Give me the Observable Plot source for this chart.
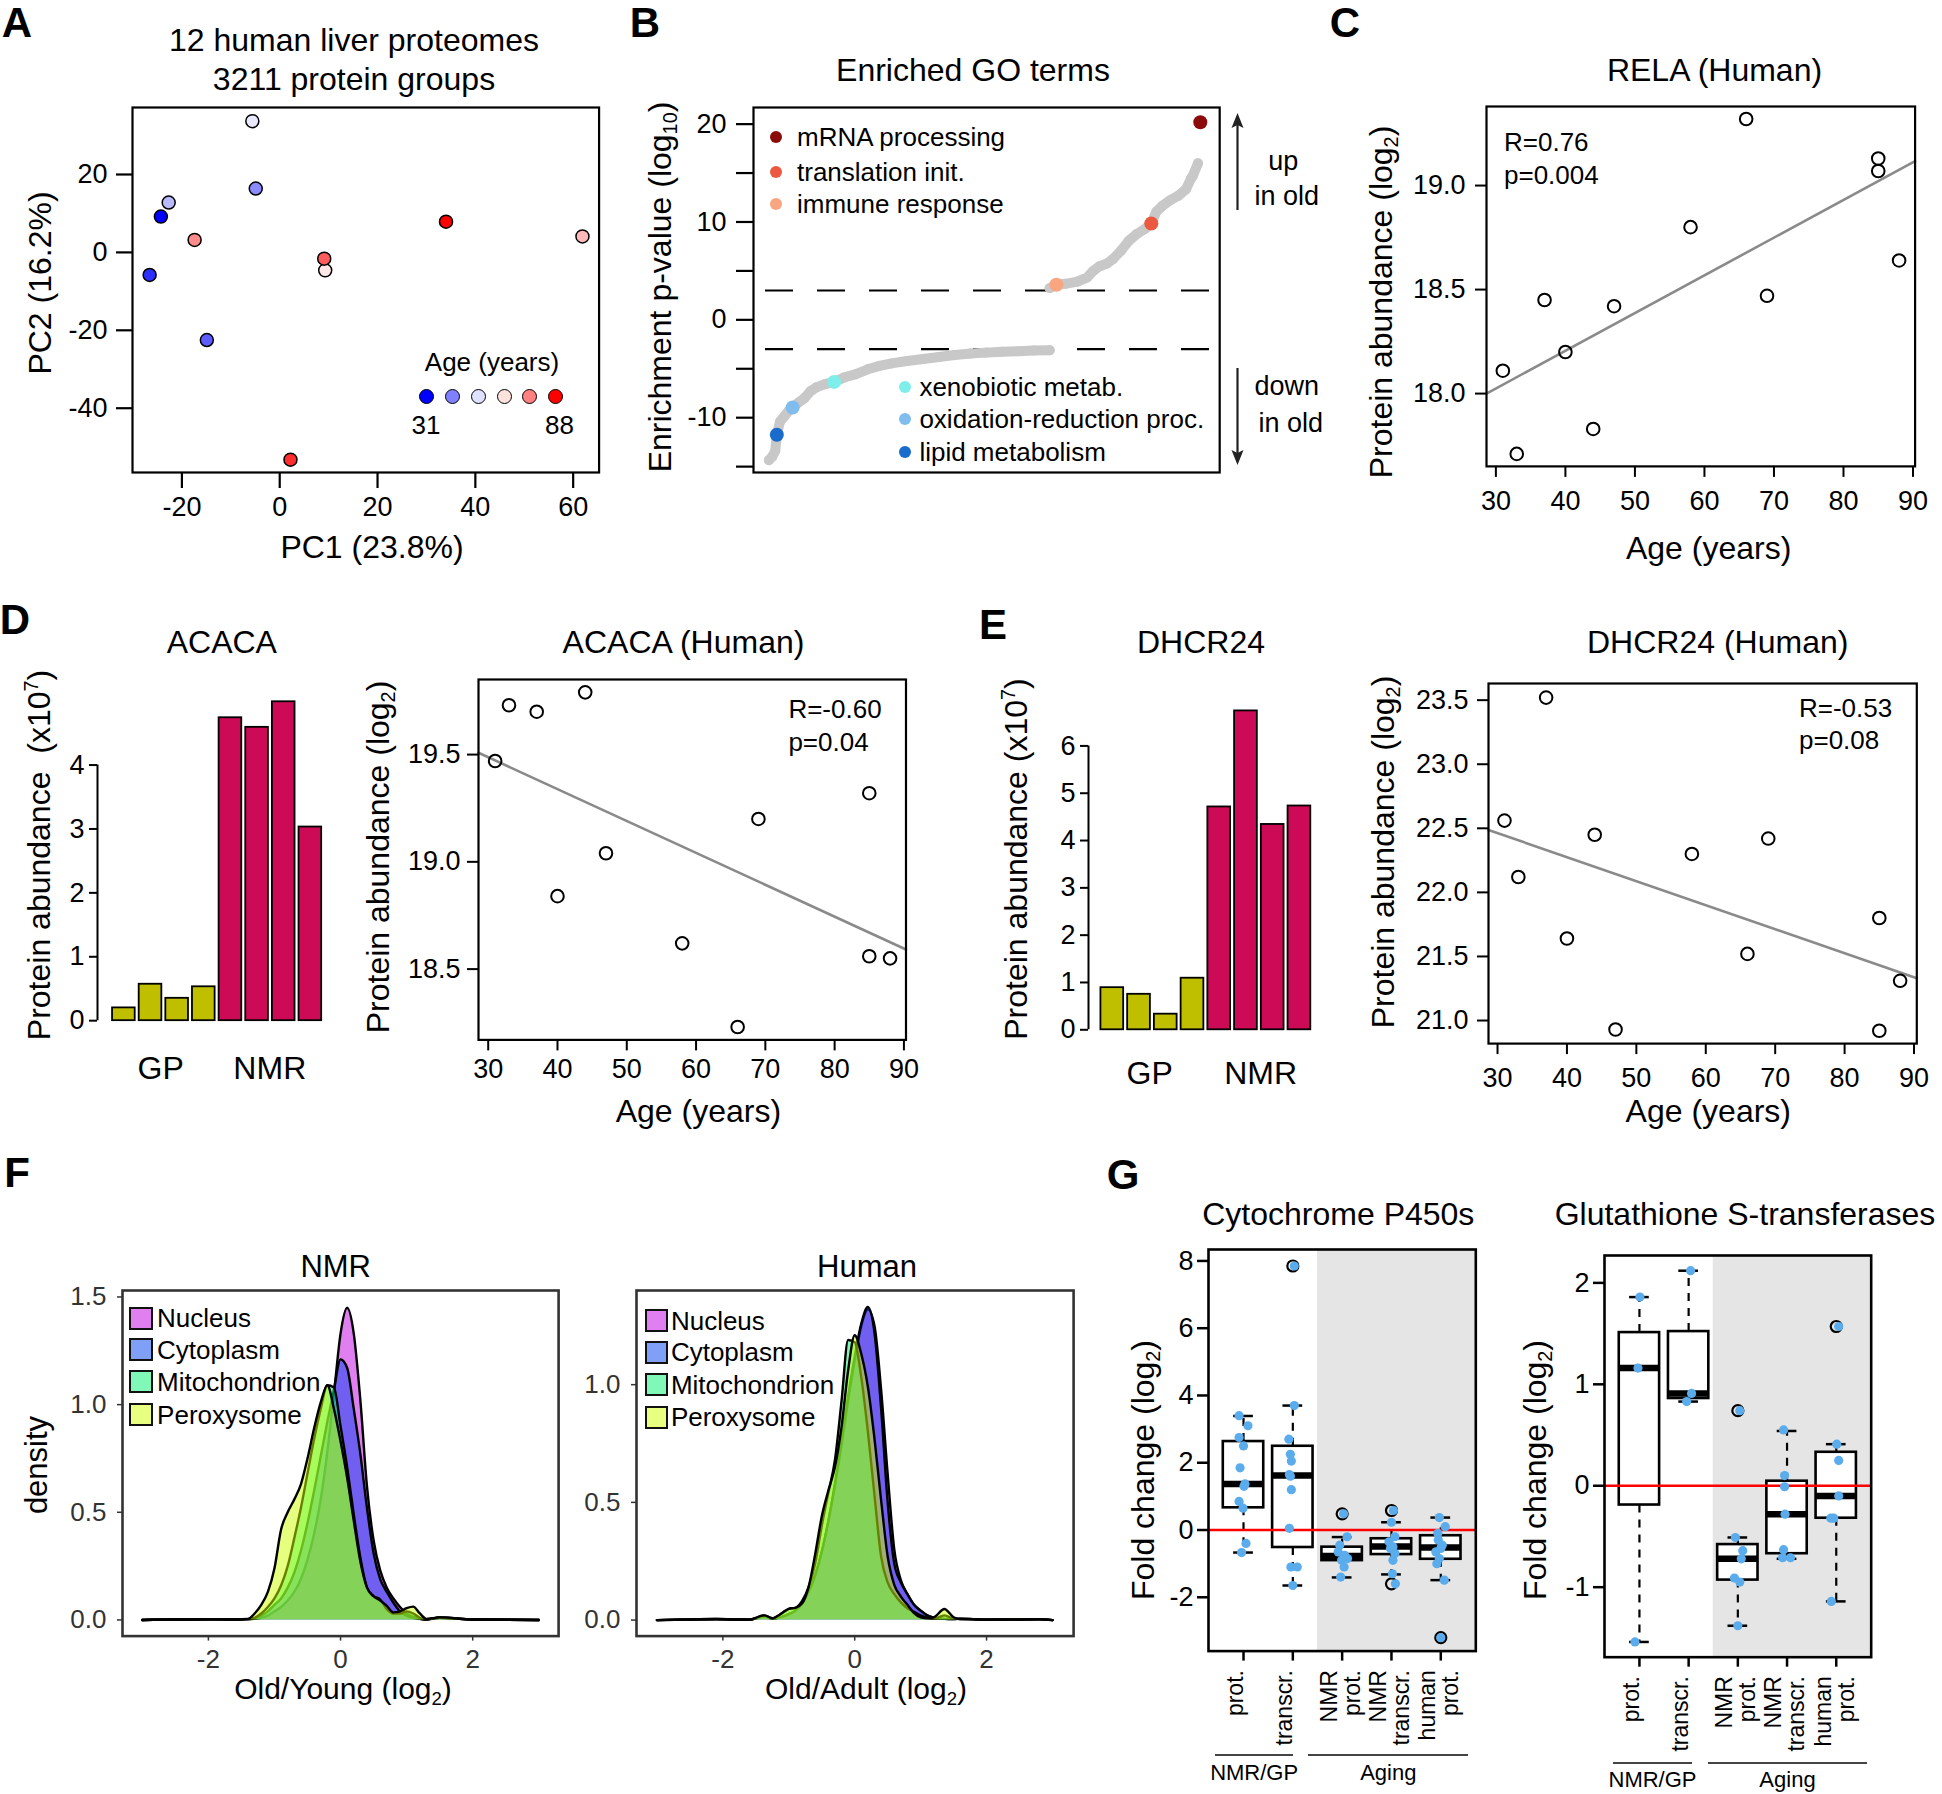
<!DOCTYPE html>
<html><head><meta charset="utf-8">
<script src="https://cdn.jsdelivr.net/npm/d3@7"></script>
<script src="https://cdn.jsdelivr.net/npm/@observablehq/plot@0.6"></script>
<style>
body{margin:0;background:#fff;}
#root{position:relative;width:1942px;height:1794px;overflow:hidden;font-family:"Liberation Sans",Arial,Helvetica,sans-serif;color:#000;background:#fff;}
.t{position:absolute;white-space:nowrap;line-height:1;}
.t sub{font-size:0.62em;vertical-align:-0.3em;line-height:0;}
.t sup{font-size:0.62em;vertical-align:0.6em;line-height:0;}
</style></head><body><div id="root"></div>
<script>
// ---------------- DATA ----------------
// Panel A: PCA of 12 human liver proteomes (sorted by age)
const ages = [31, 33, 37, 40, 44, 47, 58, 66, 69, 85, 85, 88];
const pc1 = [-24.3, -26.6, -14.9, -4.9, -22.7, -5.6, 9.3, 61.9, -17.4, 9.1, 2.2, 34.0];
const pc2 = [9.2, -5.8, -22.5, 16.4, 12.8, 33.7, -4.6, 4.1, 3.2, -1.6, -53.2, 7.9];
const ageLegendColors = ["#0000ff", "#8080ff", "#e0e0ff", "#ffe2dc", "#ff8080", "#ff0000"];
const ageLegendLabels = ["31", "88"];

// Panel B: enriched GO terms (rank position, -log10 p signed)
const goDownRank = [3.9, 4.7, 5.5, 5.9, 6.7, 7.9, 8.9, 9.9, 11.4, 12.9, 14.4, 15.9, 17.9, 20.4, 22.9, 25.9, 28.9, 31.9, 34.9, 38.9, 42.9, 46.9, 50.9, 54.9, 58.9, 62.9, 66.9, 70.9, 74.9];
const goDownVal = [-14.34, -14.0, -13.4, -11.75, -10.4, -9.8, -9.3, -8.96, -8.45, -8.0, -7.3, -6.9, -6.6, -6.34, -5.9, -5.55, -5.05, -4.7, -4.45, -4.2, -4.0, -3.8, -3.6, -3.45, -3.35, -3.27, -3.2, -3.13, -3.1];
const goUpRank = [74.9, 76.6, 78.9, 81.9, 84.4, 85.9, 87.4, 89.4, 90.9, 92.9, 94.9, 96.9, 98.9, 100.6, 101.9, 103.4, 105.4, 107.4, 109.4, 110.7, 111.1, 112.4];
const goUpVal = [3.24, 3.58, 3.68, 3.9, 4.33, 5.0, 5.45, 5.76, 6.2, 7.05, 8.07, 8.76, 9.27, 9.85, 11.07, 11.65, 12.23, 12.67, 13.36, 14.48, 14.7, 16.0];
const goTerms = ["mRNA processing", "translation init.", "immune response", "xenobiotic metab.", "oxidation-reduction proc.", "lipid metabolism"];
const goTermRank = [113.0, 100.6, 76.6, 20.4, 9.9, 5.9];
const goTermVal = [20.2, 9.85, 3.58, -6.34, -8.96, -11.75];
const goTermColors = ["#8b0a0a", "#eb5a40", "#f8a580", "#7eeeea", "#80bdee", "#1a6ccc"];
const goCutoffs = [3, -3];

// Panel C/D/E: protein abundance vs age (same 12 individuals)
const relaVals = [18.11, 17.71, 18.45, 18.20, 17.83, 18.42, 18.80, 19.32, 18.47, 19.13, 19.07, 18.64];
const acacaVals = [19.47, 19.73, 19.70, 18.84, 19.79, 19.04, 18.62, 18.23, 19.20, 19.32, 18.56, 18.55];
const dhcrVals = [22.56, 22.12, 23.52, 21.64, 22.45, 20.93, 22.30, 21.52, 22.42, 21.80, 20.92, 21.31];
const relaStats = ["R=0.76", "p=0.004"];
const acacaStats = ["R=-0.60", "p=0.04"];
const dhcrStats = ["R=-0.53", "p=0.08"];

// Panel D/E bars (x10^7), 4 GP then 4 NMR
const barSpecies = ["GP", "GP", "GP", "GP", "NMR", "NMR", "NMR", "NMR"];
const acacaBars = [0.20, 0.57, 0.35, 0.53, 4.74, 4.59, 4.99, 3.03];
const dhcrBars = [0.89, 0.75, 0.33, 1.09, 4.71, 6.74, 4.34, 4.73];
const speciesColors = {GP: "#bfbf00", NMR: "#cc0a55"};

// Panel F: density of Old/Young (NMR) and Old/Adult (Human) log2 ratios
const compartments = ["Nucleus", "Cytoplasm", "Mitochondrion", "Peroxysome"];
const compColors = ["#c100e1", "#0040f0", "#00f070", "#d0ff00"];
const nmrX = [-3.0, -2.0, -1.6, -1.4, -1.3, -1.2, -1.1, -1.0, -0.9, -0.8, -0.7, -0.6, -0.5, -0.4, -0.3, -0.2, -0.1, 0.0, 0.1, 0.2, 0.3, 0.4, 0.5, 0.6, 0.7, 0.8, 0.9, 1.0, 1.1, 1.2, 1.3, 1.5, 2.0, 3.0];
const nmrNuc = [0, 0.003, 0.002, 0.004, 0.006, 0.01, 0.02, 0.04, 0.06, 0.09, 0.13, 0.19, 0.28, 0.40, 0.56, 0.78, 1.05, 1.33, 1.45, 1.33, 1.02, 0.62, 0.37, 0.23, 0.15, 0.10, 0.06, 0.03, 0.015, 0.005, 0.002, 0.012, 0.002, 0];
const nmrCyt = [0, 0.003, 0.002, 0.004, 0.005, 0.02, 0.04, 0.07, 0.10, 0.15, 0.22, 0.32, 0.45, 0.60, 0.76, 0.92, 1.07, 1.21, 1.17, 0.98, 0.77, 0.52, 0.31, 0.19, 0.13, 0.08, 0.04, 0.02, 0.01, 0.005, 0.002, 0.01, 0.002, 0];
const nmrMit = [0, 0.003, 0.002, 0.004, 0.01, 0.03, 0.06, 0.10, 0.16, 0.25, 0.38, 0.52, 0.68, 0.84, 0.98, 1.09, 1.08, 0.90, 0.71, 0.49, 0.29, 0.15, 0.11, 0.095, 0.05, 0.03, 0.03, 0.04, 0.03, 0.01, 0.003, 0.01, 0.002, 0];
const nmrPer = [0, 0.003, 0.003, 0.005, 0.03, 0.07, 0.13, 0.24, 0.42, 0.50, 0.56, 0.63, 0.75, 0.89, 1.01, 1.09, 0.98, 0.83, 0.66, 0.46, 0.27, 0.15, 0.11, 0.09, 0.065, 0.035, 0.04, 0.055, 0.062, 0.03, 0.005, 0.012, 0.002, 0];
const humX = [-3.0, -2.1, -1.6, -1.37, -1.25, -1.1, -1.0, -0.9, -0.8, -0.7, -0.6, -0.5, -0.4, -0.3, -0.2, -0.1, 0.0, 0.1, 0.2, 0.3, 0.4, 0.5, 0.6, 0.7, 0.8, 0.9, 1.0, 1.1, 1.2, 1.36, 1.5, 1.6, 2.0, 2.8, 3.0];
const humNuc = [0, 0.003, 0.002, 0.015, 0.006, 0.015, 0.025, 0.04, 0.07, 0.12, 0.19, 0.29, 0.42, 0.57, 0.74, 0.93, 1.10, 1.25, 1.32, 1.25, 0.98, 0.62, 0.30, 0.17, 0.11, 0.065, 0.04, 0.02, 0.01, 0.005, 0.004, 0.006, 0.002, 0.003, 0];
const humCyt = [0, 0.003, 0.002, 0.015, 0.006, 0.015, 0.025, 0.04, 0.07, 0.12, 0.19, 0.29, 0.42, 0.58, 0.76, 0.95, 1.12, 1.26, 1.33, 1.22, 0.90, 0.50, 0.24, 0.16, 0.11, 0.065, 0.04, 0.02, 0.01, 0.005, 0.004, 0.006, 0.002, 0.003, 0];
const humMit = [0, 0.005, 0.002, 0.02, 0.008, 0.03, 0.048, 0.052, 0.08, 0.14, 0.24, 0.40, 0.54, 0.68, 0.93, 1.19, 1.18, 1.03, 0.80, 0.53, 0.27, 0.16, 0.11, 0.075, 0.05, 0.035, 0.02, 0.01, 0.005, 0.02, 0.006, 0.004, 0.002, 0.004, 0];
const humPer = [0, 0.005, 0.002, 0.02, 0.008, 0.03, 0.048, 0.052, 0.07, 0.14, 0.28, 0.44, 0.55, 0.65, 0.82, 1.06, 1.21, 1.13, 0.99, 0.77, 0.51, 0.27, 0.15, 0.10, 0.065, 0.03, 0.012, 0.008, 0.012, 0.047, 0.012, 0.004, 0.002, 0.004, 0];

// Panel G: fold changes (log2), boxplot statistics + individual values
const gCats = ["prot.", "transcr.", "NMR\nprot.", "NMR\ntranscr.", "human\nprot."];
const gGroups = [{label: "NMR/GP", from: 1, to: 2}, {label: "Aging", from: 3, to: 5}];
const cypLo = [-0.67, -1.65, -1.41, -1.32, -1.49];
const cypQ1 = [0.66, -0.52, -0.91, -0.73, -0.87];
const cypMed = [1.37, 1.62, -0.77, -0.49, -0.52];
const cypQ3 = [2.63, 2.49, -0.51, -0.26, -0.17];
const cypHi = [3.39, 3.70, -0.21, 0.23, 0.37];
const cypOut = [[], [7.85], [0.48], [0.58, -1.60], [-3.20]];
const cypVals = [[3.4, 3.1, 2.75, 2.5, 1.85, 1.37, 1.3, 0.85, 0.65, -0.4, -0.67], [7.85, 3.7, 2.7, 2.25, 2.05, 1.65, 1.6, 1.2, 0.05, -1.1, -1.1, -1.65], [0.48, -0.2, -0.45, -0.65, -0.75, -0.85, -0.9, -1.1, -1.4], [0.58, 0.23, -0.2, -0.35, -0.5, -0.55, -0.7, -0.9, -1.3, -1.6], [0.37, 0.1, -0.1, -0.3, -0.45, -0.55, -0.65, -0.85, -1.0, -1.49, -3.2]];
const cypJit = [[-0.09, 0.09, -0.09, 0, -0.07, 0.03, 0.01, -0.09, -0.01, 0.05, -0.04], [0.03, 0.03, -0.08, -0.05, -0.03, -0.07, -0.05, -0.03, -0.07, -0.04, 0.09, 0], [0.03, 0.1, -0.05, -0.08, 0.05, 0.11, -0.01, 0.04, -0.03], [0.04, 0, 0.07, -0.05, 0.03, -0.02, 0.07, 0.03, 0.02, 0.08], [-0.03, 0.09, -0.06, -0.05, 0.03, 0, -0.1, -0.03, -0.08, 0.07, 0]];
const gstLo = [-1.54, 0.83, -1.38, -0.72, -1.14];
const gstQ1 = [-0.19, 0.86, -0.93, -0.67, -0.32];
const gstMed = [1.16, 0.91, -0.72, -0.28, -0.10];
const gstQ3 = [1.51, 1.52, -0.58, 0.045, 0.33];
const gstHi = [1.86, 2.12, -0.51, 0.54, 0.41];
const gstOut = [[], [], [0.74], [], [1.57]];
const gstVals = [[1.86, 1.16, -1.54], [2.12, 0.91, 0.83], [0.74, -0.51, -0.64, -0.72, -0.91, -0.95, -1.38], [0.55, 0.1, -0.01, -0.28, -0.63, -0.71, -0.71], [1.57, 0.41, 0.25, -0.1, -0.32, -0.32, -1.14]];
const gstJit = [[0.01, -0.03, -0.09], [0.04, 0.06, -0.04], [0.04, -0.05, 0.1, 0.07, -0.07, 0.04, 0], [-0.07, -0.05, -0.05, -0.04, -0.07, -0.09, 0.07], [0.05, 0.01, 0.05, 0.05, -0.11, -0.05, -0.1]];

// ---------------- HELPERS ----------------
const FONT = '"Liberation Sans", Arial, Helvetica, sans-serif';
const root = document.getElementById("root");
const fmt = d => String(d);
const fmt1 = d => d.toFixed(1);

function txt(html, x, y, o = {}) {
  const d = document.createElement("div");
  d.className = "t";
  d.innerHTML = html;
  d.style.fontSize = (o.size || 32) + "px";
  if (o.bold) d.style.fontWeight = "bold";
  if (o.color) d.style.color = o.color;
  d.style.left = x + "px";
  d.style.top = y + "px";
  const ax = o.anchor === "start" ? "0%" : o.anchor === "end" ? "-100%" : "-50%";
  d.style.transform = `translate(${ax},-50%)` + (o.rotate ? ` rotate(${o.rotate}deg)` : "");
  root.appendChild(d);
  return d;
}
function box(x, y, w, h, style) {
  const d = document.createElement("div");
  d.style.position = "absolute";
  d.style.left = x + "px"; d.style.top = y + "px";
  d.style.width = w + "px"; d.style.height = h + "px";
  Object.assign(d.style, style);
  root.appendChild(d);
  return d;
}
function panel(L, T, R, B, opts, m = {l: 100, t: 30, r: 30, b: 90}) {
  const p = Plot.plot({
    width: R - L + m.l + m.r,
    height: B - T + m.t + m.b,
    marginLeft: m.l, marginTop: m.t, marginRight: m.r, marginBottom: m.b,
    style: {fontFamily: FONT, fontSize: "27px", overflow: "visible", background: "transparent", color: "black"},
    ...opts
  });
  p.style.position = "absolute";
  p.style.left = (L - m.l) + "px";
  p.style.top = (T - m.t) + "px";
  root.appendChild(p);
  return p;
}
function fit(xs, ys) {
  const mx = d3.mean(xs), my = d3.mean(ys);
  const b = d3.sum(xs, (x, i) => (x - mx) * (ys[i] - my)) / d3.sum(xs, x => (x - mx) ** 2);
  return {a: my - b * mx, b};
}

// ---------------- PANEL A ----------------
{
  const order = d3.range(ages.length).sort((i, j) => ages[i] - ages[j] || i - j);
  const rank = new Array(ages.length);
  order.forEach((k, r) => rank[k] = r);
  const ageColor = t => t <= 0.5 ? d3.interpolateRgb("#0000ff", "#ffffff")(t * 2) : d3.interpolateRgb("#ffffff", "#ff0000")((t - 0.5) * 2);
  const data = ages.map((a, i) => ({age: a, x: pc1[i], y: pc2[i], color: ageColor(rank[i] / (ages.length - 1))}));
  panel(131.7, 106.5, 598.3, 471.5, {
    x: {domain: [-30.1, 65.3]},
    y: {domain: [-56.5, 37.2]},
    color: {type: "identity"},
    marks: [
      Plot.frame({stroke: "black", strokeWidth: 2.2}),
      Plot.axisX({ticks: [-20, 0, 20, 40, 60], tickSize: 16, tickPadding: 8, strokeWidth: 2.2, label: null, tickFormat: fmt, fontSize: 27}),
      Plot.axisY({ticks: [-40, -20, 0, 20], tickSize: 16, tickPadding: 9, strokeWidth: 2.2, label: null, tickFormat: fmt, fontSize: 27}),
      Plot.dot(data, {x: "x", y: "y", r: 6.5, fill: "color", stroke: "black", strokeWidth: 1.5})
    ]
  });
  txt("A", 17, 23, {size: 42, bold: true});
  txt("12 human liver proteomes", 354, 40, {size: 32});
  txt("3211 protein groups", 354, 79, {size: 32});
  txt("PC1 (23.8%)", 372, 547, {size: 32});
  txt("PC2 (16.2%)", 40, 283, {size: 32, rotate: -90});
  txt("Age (years)", 492, 362, {size: 26});
  const lx = [426, 452, 478.4, 504.6, 529.5, 555.6];
  ageLegendColors.forEach((c, i) => box(lx[i] - 7.5, 396.6 - 7.5, 15, 15, {background: c, border: "1.5px solid #000", borderRadius: "50%", boxSizing: "border-box"}));
  txt(ageLegendLabels[0], 426, 425, {size: 26});
  txt(ageLegendLabels[1], 559.5, 425, {size: 26});
}

// ---------------- PANEL B ----------------
{
  const down = goDownRank.map((r, i) => ({r, v: goDownVal[i]}));
  const up = goUpRank.map((r, i) => ({r, v: goUpVal[i]}));
  const terms = goTerms.map((t, i) => ({t, r: goTermRank[i], v: goTermVal[i], c: goTermColors[i]}));
  const labeled = [20, 10, 0, -10];
  panel(753, 106.7, 1219.2, 471.7, {
    x: {domain: [0, 117.9], axis: null},
    y: {domain: [-15.6, 21.7]},
    color: {type: "identity"},
    marks: [
      Plot.ruleY(goCutoffs, {stroke: "black", strokeWidth: 2.2, strokeDasharray: "28,24", strokeDashoffset: -12}),
      Plot.line(down, {x: "r", y: "v", stroke: "#c8c8c8", strokeWidth: 10, strokeLinecap: "round", strokeLinejoin: "round"}),
      Plot.line(up, {x: "r", y: "v", stroke: "#c8c8c8", strokeWidth: 10, strokeLinecap: "round", strokeLinejoin: "round"}),
      Plot.dot(down, {x: "r", y: "v", r: 5, fill: "#c8c8c8"}),
      Plot.dot(up, {x: "r", y: "v", r: 5, fill: "#c8c8c8"}),
      Plot.dot(terms, {x: "r", y: "v", r: 7, fill: "c"}),
      Plot.frame({stroke: "black", strokeWidth: 2.2}),
      Plot.axisY({ticks: [-15, -10, -5, 0, 5, 10, 15, 20], tickSize: 17, tickPadding: 10, strokeWidth: 2.2, label: null, tickFormat: d => labeled.includes(d) ? String(d) : "", fontSize: 27})
    ]
  });
  txt("B", 645, 23, {size: 42, bold: true});
  txt("Enriched GO terms", 973, 70, {size: 32});
  txt("Enrichment p-value (log<sub>10</sub>)", 660, 287, {size: 32, rotate: -90});
  const upY = [137.3, 172.3, 203.7], downY = [387.3, 418.7, 451.7];
  [0, 1, 2].forEach(i => {
    box(776.3 - 6, upY[i] - 6, 12, 12, {background: goTermColors[i], borderRadius: "50%"});
    txt(goTerms[i], 797, upY[i], {size: 26, anchor: "start"});
    box(904.8 - 6, downY[i] - 6, 12, 12, {background: goTermColors[i + 3], borderRadius: "50%"});
    txt(goTerms[i + 3], 919.4, downY[i], {size: 26, anchor: "start"});
  });
  const svgNS = "http://www.w3.org/2000/svg";
  const s = document.createElementNS(svgNS, "svg");
  s.setAttribute("width", 40); s.setAttribute("height", 380);
  s.style.position = "absolute"; s.style.left = "1217px"; s.style.top = "100px";
  s.innerHTML = `<line x1="20.5" y1="22" x2="20.5" y2="110" stroke="#222" stroke-width="2.2"/>
    <path d="M20.5,13 L14.5,28 L20.5,25 L26.5,28 Z" fill="#222"/>
    <line x1="20.5" y1="268" x2="20.5" y2="356" stroke="#222" stroke-width="2.2"/>
    <path d="M20.5,365 L14.5,350 L20.5,353 L26.5,350 Z" fill="#222"/>`;
  root.appendChild(s);
  txt("up", 1283.3, 161, {size: 27});
  txt("in old", 1286.7, 196, {size: 27});
  txt("down", 1286.7, 386, {size: 27});
  txt("in old", 1290.7, 423, {size: 27});
}

// ---------------- scatter helper (C, D, E) ----------------
function scatter(L, T, R, B, xDom, yDom, vals, yTicks, o) {
  const data = ages.map((a, i) => ({a, v: vals[i]}));
  const {a, b} = fit(ages, vals);
  const reg = xDom.map(x => ({x, y: a + b * x}));
  panel(L, T, R, B, {
    x: {domain: xDom},
    y: {domain: yDom},
    marks: [
      Plot.line(reg, {x: "x", y: "y", stroke: "#8a8a8a", strokeWidth: 2.6}),
      Plot.dot(data, {x: "a", y: "v", r: 6.3, stroke: "black", strokeWidth: 2, fill: "none"}),
      Plot.frame({stroke: "black", strokeWidth: 2.2}),
      Plot.axisX({ticks: [30, 40, 50, 60, 70, 80, 90], tickSize: 11, tickPadding: o.xpad, strokeWidth: 2, label: null, tickFormat: fmt, fontSize: 27}),
      Plot.axisY({ticks: yTicks, tickSize: 11, tickPadding: o.ypad, strokeWidth: 2, label: null, tickFormat: fmt1, fontSize: 27})
    ]
  });
}

// ---------------- PANEL C ----------------
scatter(1485.7, 106.2, 1914.3, 466.1, [28.65, 90.3], [17.65, 19.38], relaVals, [18.0, 18.5, 19.0], {xpad: 13, ypad: 10});
txt("C", 1345, 23, {size: 42, bold: true});
txt("RELA (Human)", 1714.5, 70, {size: 32});
txt(relaStats[0], 1504, 142.4, {size: 26, anchor: "start"});
txt(relaStats[1], 1504, 174.6, {size: 26, anchor: "start"});
txt("Protein abundance (log<sub>2</sub>)", 1381, 302, {size: 32, rotate: -90});
txt("Age (years)", 1708.6, 547.5, {size: 32});

// ---------------- bar helper (D, E) ----------------
function bars(L, T, R, B, xMin, yDom, vals, yTicks) {
  const data = vals.map((v, i) => ({i, i2: i + 1, v, c: speciesColors[barSpecies[i]]}));
  panel(L, T, R, B, {
    x: {domain: [xMin, vals.length], axis: null},
    y: {domain: yDom},
    color: {type: "identity"},
    marks: [
      Plot.rectY(data, {x1: "i", x2: "i2", y: "v", fill: "c", stroke: "black", strokeWidth: 1.8, insetLeft: 2, insetRight: 2}),
      Plot.ruleX([xMin], {y1: d3.min(yTicks), y2: d3.max(yTicks), stroke: "black", strokeWidth: 2}),
      Plot.axisY({ticks: yTicks, tickSize: 8, tickPadding: 5, strokeWidth: 2, label: null, tickFormat: fmt, fontSize: 27})
    ]
  });
}

// ---------------- PANEL D ----------------
bars(97.1, 700, 323.3, 1020.2, -0.49, [0, 5.01], acacaBars, [0, 1, 2, 3, 4]);
txt("D", 15, 620, {size: 42, bold: true});
txt("ACACA", 221.8, 642, {size: 32});
txt("Protein abundance&nbsp;&nbsp;(x10<sup>7</sup>)", 39, 855, {size: 32, rotate: -90});
txt("GP", 160.7, 1068, {size: 32});
txt("NMR", 269.8, 1068, {size: 32});
scatter(477.8, 679.1, 905.3, 1039.5, [28.6, 90.3], [18.17, 19.85], acacaVals, [18.5, 19.0, 19.5], {xpad: 8, ypad: 7});
txt("ACACA (Human)", 683.5, 642, {size: 32});
txt(acacaStats[0], 788.4, 709, {size: 26, anchor: "start"});
txt(acacaStats[1], 788.4, 742, {size: 26, anchor: "start"});
txt("Protein abundance (log<sub>2</sub>)", 377.7, 857, {size: 32, rotate: -90});
txt("Age (years)", 698.4, 1110.5, {size: 32});

// ---------------- PANEL E ----------------
bars(1088.4, 700, 1312.7, 1029.3, -0.39, [0, 6.96], dhcrBars, [0, 1, 2, 3, 4, 5, 6]);
txt("E", 993, 625, {size: 42, bold: true});
txt("DHCR24", 1201, 642, {size: 32});
txt("Protein abundance (x10<sup>7</sup>)", 1016.4, 858.6, {size: 32, rotate: -90});
txt("GP", 1149.7, 1073.3, {size: 32});
txt("NMR", 1260.6, 1073.3, {size: 32});
scatter(1487.9, 682.8, 1916.2, 1042.9, [28.7, 90.4], [20.82, 23.63], dhcrVals, [21.0, 21.5, 22.0, 22.5, 23.0, 23.5], {xpad: 13, ypad: 9});
txt("DHCR24 (Human)", 1717.7, 642, {size: 32});
txt(dhcrStats[0], 1799, 708.2, {size: 26, anchor: "start"});
txt(dhcrStats[1], 1799, 740.3, {size: 26, anchor: "start"});
txt("Protein abundance (log<sub>2</sub>)", 1382.7, 852, {size: 32, rotate: -90});
txt("Age (years)", 1708.3, 1110.5, {size: 32});

// ---------------- PANEL F ----------------
function density(L, T, R, B, xDom, yDom, xs, series, yTicks) {
  const marks = [];
  series.forEach((ys, k) => {
    const d = xs.map((x, i) => ({x, y: ys[i]}));
    marks.push(Plot.areaY(d, {x: "x", y: "y", fill: compColors[k], fillOpacity: 0.5, curve: "monotone-x"}));
    marks.push(Plot.lineY(d, {x: "x", y: "y", stroke: "black", strokeWidth: 2.4, curve: "monotone-x"}));
  });
  panel(L, T, R, B, {
    x: {domain: xDom},
    y: {domain: yDom},
    marks: [
      ...marks,
      Plot.frame({stroke: "#333", strokeWidth: 2.6}),
      Plot.axisX({ticks: [-2, 0, 2], tickSize: 5, tickPadding: 8, stroke: "#333", fill: "#333", color: "#333", strokeWidth: 1.5, label: null, tickFormat: fmt, fontSize: 26}),
      Plot.axisY({ticks: yTicks, tickSize: 5, tickPadding: 11, stroke: "#333", fill: "#333", color: "#333", strokeWidth: 1.5, label: null, tickFormat: fmt1, fontSize: 26})
    ]
  });
}
density(122.1, 1290.4, 558.2, 1636, [-3.3, 3.3], [-0.075, 1.53], nmrX, [nmrNuc, nmrCyt, nmrMit, nmrPer], [0, 0.5, 1.0, 1.5]);
density(636.1, 1290.4, 1073.2, 1636, [-3.31, 3.32], [-0.068, 1.40], humX, [humNuc, humCyt, humMit, humPer], [0, 0.5, 1.0]);
txt("F", 17, 1173, {size: 42, bold: true});
txt("NMR", 335.7, 1266, {size: 31});
txt("Human", 867, 1266, {size: 31});
txt("density", 36, 1465, {size: 31, rotate: -90});
txt("Old/Young (log<sub>2</sub>)", 343, 1689, {size: 30});
txt("Old/Adult (log<sub>2</sub>)", 866, 1689, {size: 30});
{
  const legs = [{bx: 129.3, tx: 157.1, ys: [1318.3, 1349.7, 1381.9, 1414.8]}, {bx: 644.5, tx: 670.9, ys: [1320.6, 1352.4, 1384.9, 1417.1]}];
  legs.forEach(l => compartments.forEach((c, k) => {
    const mix = d3.interpolateRgb("#ffffff", compColors[k])(0.5);
    box(l.bx, l.ys[k] - 11.5, 23.5, 23, {background: mix, border: "2.5px solid #111", boxSizing: "border-box"});
    txt(c, l.tx, l.ys[k], {size: 26, anchor: "start"});
  }));
}

// ---------------- PANEL G ----------------
function boxPanel(L, T, R, B, yDom, yTicks, lo, q1, med, q3, hi, outs, vals, jits) {
  const xDom = [0.29, 5.71];
  const stats = gCats.map((c, k) => ({i: k + 1, label: c, lo: lo[k], q1: q1[k], med: med[k], q3: q3[k], hi: hi[k]}));
  const pts = vals.flatMap((vs, k) => vs.map((v, j) => ({x: k + 1 + jits[k][j], v})));
  const out = outs.flatMap((vs, k) => vs.map(v => ({i: k + 1, v})));
  const shade = gGroups.filter(g => g.label === "Aging").map(g => ({x1: g.from - 0.5, x2: xDom[1]}));
  const single = stats.filter(d => !d.label.includes("\n"));
  const double = stats.filter(d => d.label.includes("\n"));
  panel(L, T, R, B, {
    x: {domain: xDom},
    y: {domain: yDom},
    marks: [
      Plot.rect(shade, {x1: "x1", x2: "x2", y1: yDom[0], y2: yDom[1], fill: "#e5e5e5"}),
      Plot.ruleX(stats, {x: "i", y1: "q3", y2: "hi", stroke: "black", strokeWidth: 2.2, strokeDasharray: "8,7"}),
      Plot.ruleX(stats, {x: "i", y1: "q1", y2: "lo", stroke: "black", strokeWidth: 2.2, strokeDasharray: "8,7"}),
      Plot.ruleY(stats, {y: "hi", x1: d => d.i - 0.2, x2: d => d.i + 0.2, stroke: "black", strokeWidth: 2.5}),
      Plot.ruleY(stats, {y: "lo", x1: d => d.i - 0.2, x2: d => d.i + 0.2, stroke: "black", strokeWidth: 2.5}),
      Plot.rect(stats, {x1: d => d.i - 0.41, x2: d => d.i + 0.41, y1: "q1", y2: "q3", fill: "white", stroke: "black", strokeWidth: 2.6}),
      Plot.ruleY(stats, {y: "med", x1: d => d.i - 0.41, x2: d => d.i + 0.41, stroke: "black", strokeWidth: 6.5}),
      Plot.dot(out, {x: "i", y: "v", r: 5.5, stroke: "black", strokeWidth: 2.2, fill: "none"}),
      Plot.ruleY([0], {stroke: "#ff0000", strokeWidth: 2.6}),
      Plot.dot(pts, {x: "x", y: "v", r: 4.6, fill: "#5aacec"}),
      Plot.frame({stroke: "black", strokeWidth: 2.6}),
      Plot.axisY({ticks: yTicks, tickSize: 11, tickPadding: 4, strokeWidth: 2.5, label: null, tickFormat: fmt, fontSize: 27}),
      Plot.axisX({ticks: [1, 2, 3, 4, 5], tickSize: 10, tickFormat: () => "", strokeWidth: 2.5, label: null}),
      Plot.text(single, {x: "i", text: "label", frameAnchor: "bottom", rotate: -90, textAnchor: "end", lineAnchor: "middle", dy: 19, dx: -8, fontSize: 23}),
      Plot.text(double, {x: "i", text: "label", frameAnchor: "bottom", rotate: -90, textAnchor: "end", lineAnchor: "middle", dy: 19, dx: -1.5, fontSize: 23})
    ]
  });
}
boxPanel(1207.7, 1249.4, 1475, 1651, [-3.6, 8.34], [-2, 0, 2, 4, 6, 8], cypLo, cypQ1, cypMed, cypQ3, cypHi, cypOut, cypVals, cypJit);
boxPanel(1604, 1254.7, 1870.7, 1656.4, [-1.69, 2.27], [-1, 0, 1, 2], gstLo, gstQ1, gstMed, gstQ3, gstHi, gstOut, gstVals, gstJit);
txt("G", 1123, 1175, {size: 42, bold: true});
txt("Cytochrome P450s", 1338.3, 1213.7, {size: 32});
txt("Glutathione S-transferases", 1745, 1213.7, {size: 32});
txt("Fold change (log<sub>2</sub>)", 1143.3, 1470, {size: 32, rotate: -90});
txt("Fold change (log<sub>2</sub>)", 1535, 1470, {size: 32, rotate: -90});
{
  const lines = [
    {y: 1755, ly: 1773.4, segs: [[1215, 1293.3], [1308.3, 1468.3]]},
    {y: 1762.7, ly: 1780.4, segs: [[1613.3, 1691.7], [1708.3, 1866.7]]}
  ];
  lines.forEach(l => gGroups.forEach((g, k) => {
    const [a, b] = l.segs[k];
    box(a, l.y - 1, b - a, 2.2, {background: "#444"});
    txt(g.label, (a + b) / 2, l.ly, {size: 22});
  }));
}
</script></body></html>
